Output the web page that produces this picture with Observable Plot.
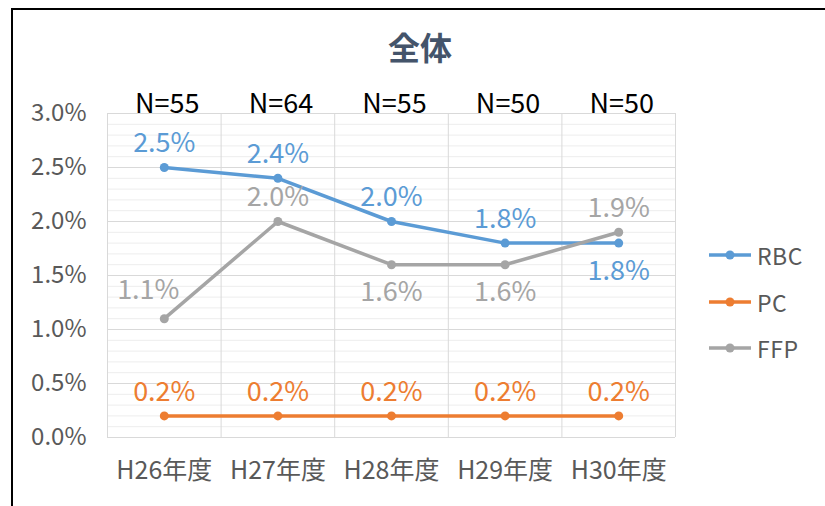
<!DOCTYPE html>
<html>
<head>
<meta charset="utf-8">
<script src="https://cdn.jsdelivr.net/npm/d3@7"></script>
<script src="https://cdn.jsdelivr.net/npm/@observablehq/plot@0.6"></script>
<style>
  html, body { margin: 0; padding: 0; background: #fff; }
  #wrap { position: relative; width: 825px; height: 506px; overflow: hidden; font-family: "Noto Sans CJK JP", "Noto Sans", sans-serif; }
  #frame { position: absolute; left: 11px; top: 8px; width: 830px; height: 520px; border-left: 2px solid #000; border-top: 2px solid #000; }
  #title { position: absolute; left: 0; width: 840px; top: 26px; text-align: center; font-size: 32px; line-height: 40px; font-weight: bold; color: #44546A; }
  #legend { position: absolute; left: 708px; top: 232px; }
  .li { display: flex; align-items: center; height: 46.5px; font-size: 23px; color: #595959; letter-spacing: 0.5px; }
  .li svg { margin-right: 5px; }
  #chart { position: absolute; left: 0; top: 0; }
</style>
</head>
<body>
<div id="wrap">
  <div id="frame"></div>
  <div id="chart"></div>
  <div id="title"></div>
  <div id="legend"></div>
</div>
<script>
const categories = ["H26年度", "H27年度", "H28年度", "H29年度", "H30年度"];
const nLabels = ["N=55", "N=64", "N=55", "N=50", "N=50"];
const seriesNames = ["RBC", "PC", "FFP"];
const rbc = [0.025, 0.024, 0.020, 0.018, 0.018];
const pc  = [0.002, 0.002, 0.002, 0.002, 0.002];
const ffp = [0.011, 0.020, 0.016, 0.016, 0.019];
const yTicks = [0, 0.005, 0.010, 0.015, 0.020, 0.025, 0.030];
const titleText = "全体";
const colors = ["#5B9BD5", "#ED7D31", "#A5A5A5"];

// label placement: which labels sit below their point, and which are nudged left
const below = { RBC: [4], PC: [], FFP: [2, 3] };
const nudgedLeft = { RBC: [], PC: [], FFP: [0] };

const valuesBySeries = { RBC: rbc, PC: pc, FFP: ffp };
const table = seriesNames.flatMap(s => valuesBySeries[s].map((v, i) => ({
  series: s, i, value: v, label: (v * 100).toFixed(1) + "%",
  below: below[s].includes(i), left: nudgedLeft[s].includes(i)
})));

const minorTicks = d3.range(1, 30).map(k => k / 1000).filter(v => !yTicks.some(t => Math.abs(t - v) < 1e-9));
const boundaries = d3.range(categories.length + 1).map(i => i - 0.5);

const fontFamily = '"Noto Sans CJK JP", "Noto Sans", sans-serif';

const chart = Plot.plot({
  width: 825,
  height: 506,
  marginLeft: 107,
  marginRight: 150,
  marginTop: 113,
  marginBottom: 69,
  style: { background: "transparent", fontFamily, overflow: "visible" },
  x: { type: "linear", domain: [-0.5, categories.length - 0.5], axis: null },
  y: { domain: [0, 0.03], axis: null },
  color: { domain: seriesNames, range: colors },
  marks: [
    Plot.ruleY(minorTicks, { y: d => d, stroke: "#EDEDED", strokeWidth: 1 }),
    Plot.ruleY(yTicks, { y: d => d, stroke: "#D9D9D9", strokeWidth: 1 }),
    Plot.ruleX(boundaries, { x: d => d, stroke: "#D9D9D9", strokeWidth: 1 }),
    Plot.text(yTicks, { y: d => d, text: d => (d * 100).toFixed(1) + "%", frameAnchor: "left", dx: -21, textAnchor: "end", fontSize: 24, fill: "#595959" }),
    Plot.text(categories, { x: (d, i) => i, text: d => d, frameAnchor: "bottom", dy: 41, fontSize: 25, fill: "#595959" }),
    Plot.text(nLabels, { x: (d, i) => i, text: d => d, frameAnchor: "top", dy: -20, dx: 3, fontSize: 27, fill: "#000" }),
    Plot.line(table, { x: "i", y: "value", z: "series", stroke: "series", strokeWidth: 3.5 }),
    Plot.dot(table, { x: "i", y: "value", fill: "series", r: 4.5 }),
    Plot.text(table.filter(d => !d.below && !d.left), { x: "i", y: "value", text: "label", fill: "series", dy: -24, fontSize: 27, letterSpacing: 1 }),
    Plot.text(table.filter(d => d.left), { x: "i", y: "value", text: "label", fill: "series", dy: -28, dx: -16, fontSize: 27, letterSpacing: 1 }),
    Plot.text(table.filter(d => d.below), { x: "i", y: "value", text: "label", fill: "series", dy: 28, fontSize: 27, letterSpacing: 1 })
  ]
});
document.getElementById("chart").appendChild(chart);
document.getElementById("title").textContent = titleText;

const legend = document.getElementById("legend");
seriesNames.forEach((s, k) => {
  const row = document.createElement("div");
  row.className = "li";
  row.innerHTML = `<svg width="44" height="12"><line x1="1" y1="6" x2="43" y2="6" stroke="${colors[k]}" stroke-width="3.5"/><circle cx="22" cy="6" r="4.5" fill="${colors[k]}"/></svg><span>${s}</span>`;
  legend.appendChild(row);
});
</script>
</body>
</html>
